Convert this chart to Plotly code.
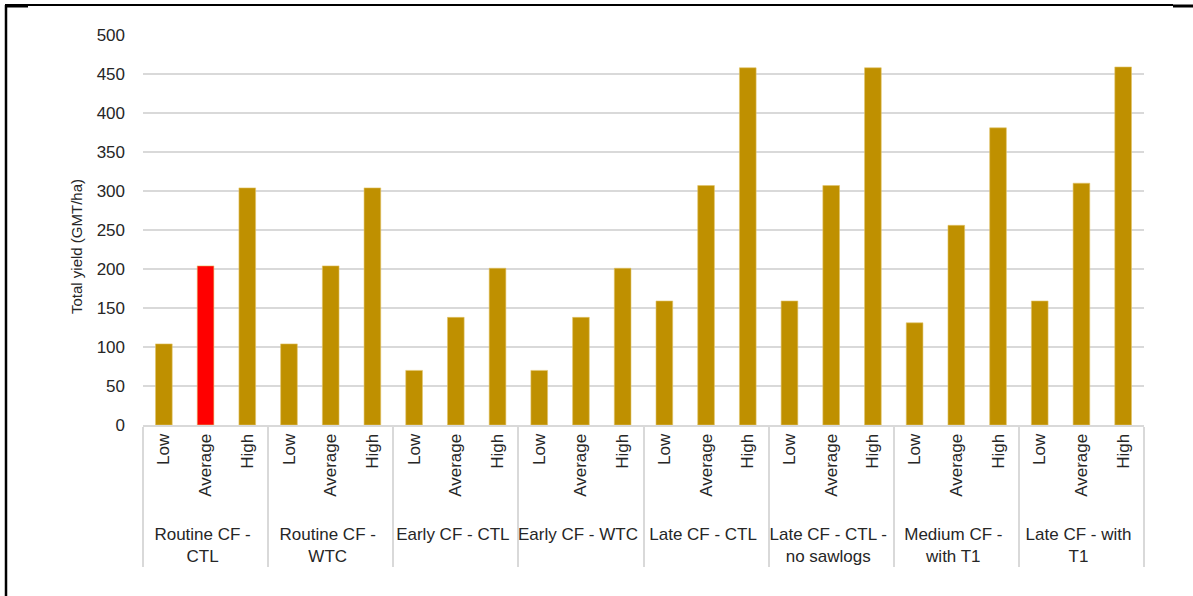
import plotly.graph_objects as go

# yield per scenario (GMT/ha)
groups = ["Routine CF -<br>CTL", "Routine CF -<br>WTC", "Early CF - CTL", "Early CF - WTC",
          "Late CF - CTL", "Late CF - CTL -<br>no sawlogs", "Medium CF -<br>with T1", "Late CF - with<br>T1"]
levels = ["Low", "Average", "High"]
low = [104, 104, 70, 70, 159, 159, 131, 159]
average = [204, 204, 138, 138, 307, 307, 256, 310]
high = [304, 304, 201, 201, 458, 458, 381, 459]
yticks = [0, 50, 100, 150, 200, 250, 300, 350, 400, 450, 500]

gold = "#BF9000"
red = "#FF0000"

# padded inner labels push the group row a bit lower (nbsp at the far end)
pad = "\u00a0\u00a0"

xg, xl, yv, cols = [], [], [], []
for i, g in enumerate(groups):
    for lv, vals in zip(levels, [low, average, high]):
        xg.append(g)
        xl.append(pad + lv)
        yv.append(vals[i])
        cols.append(red if (i == 0 and lv == "Average") else gold)

fig = go.Figure()
fig.add_trace(go.Bar(x=[xg, xl], y=yv, marker=dict(color=cols, line=dict(width=0.6, color="#E3C46A"))))

txt = "#262626"
fnt = "Liberation Sans, Arial, sans-serif"

fig.update_layout(
    width=1193, height=596,
    margin=dict(l=143, r=49, t=35, b=171),
    paper_bgcolor="white", plot_bgcolor="white",
    bargap=0.6, showlegend=False,
    font=dict(family=fnt, size=17, color=txt),
)
fig.update_xaxes(
    type="multicategory", tickangle=-90, showline=True, linecolor="#d9d9d9", linewidth=2,
    showdividers=True, dividercolor="#d9d9d9", dividerwidth=2,
    tickfont=dict(family=fnt, size=17, color=txt), ticks="",
)
fig.update_yaxes(
    range=[0, 500], tickvals=yticks, showgrid=True, gridcolor="#d9d9d9", gridwidth=2,
    zeroline=False, tickfont=dict(family=fnt, size=17, color=txt), ticklabelstandoff=17,
)
fig.add_annotation(text="Total yield (GMT/ha)", textangle=-90, xref="paper", yref="paper",
                   x=(76 - 143) / 1001, y=(425 - 247) / 390, xanchor="center", yanchor="middle",
                   showarrow=False, font=dict(family=fnt, size=15, color=txt))

# partial black frame around the chart (top and left edges)
def px(x):
    return (x - 143) / 1001

def py(y):
    return (425 - y) / 390

frame = [
    dict(x0=px(5), x1=px(1173), y0=py(5), y1=py(5), w=2),
    dict(x0=px(6), x1=px(6), y0=py(5), y1=py(596), w=2.5),
    dict(x0=px(5), x1=px(28), y0=py(6), y1=py(6), w=3),
    dict(x0=px(1173), x1=px(1193), y0=py(6), y1=py(6), w=3),
]
for f in frame:
    fig.add_shape(type="line", xref="paper", yref="paper", x0=f["x0"], x1=f["x1"],
                  y0=f["y0"], y1=f["y1"], line=dict(color="black", width=f["w"]))

fig.write_html("out.html", config={"displayModeBar": False},
               post_script="document.body.style.margin='0';")
